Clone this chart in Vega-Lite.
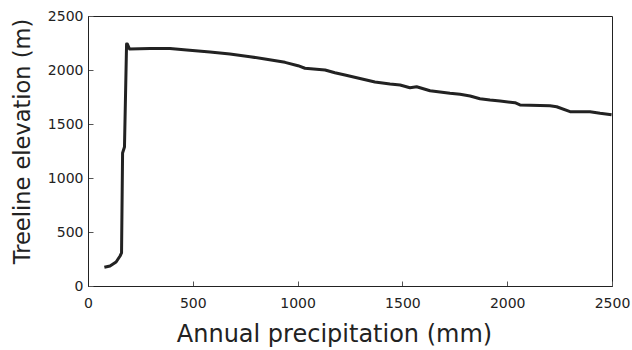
{
  "$schema": "https://vega.github.io/schema/vega-lite/v6.json",
  "width": 524,
  "height": 270,
  "autosize": "none",
  "padding": {"left": 88, "top": 16, "right": 20, "bottom": 64},
  "background": "white",
  "config": {
    "view": {"stroke": "#222", "strokeWidth": 1},
    "font": "DejaVu Sans"
  },
  "data": {
    "values": [
      {"p": 78, "e": 173}, {"p": 105, "e": 185}, {"p": 134, "e": 222},
      {"p": 153, "e": 278}, {"p": 160, "e": 306}, {"p": 165, "e": 1231},
      {"p": 174, "e": 1287}, {"p": 184, "e": 2241}, {"p": 188, "e": 2241},
      {"p": 198, "e": 2194}, {"p": 296, "e": 2199}, {"p": 391, "e": 2199},
      {"p": 471, "e": 2185}, {"p": 582, "e": 2167}, {"p": 677, "e": 2148},
      {"p": 773, "e": 2123}, {"p": 844, "e": 2102}, {"p": 940, "e": 2071},
      {"p": 1002, "e": 2040}, {"p": 1035, "e": 2016}, {"p": 1131, "e": 2000},
      {"p": 1178, "e": 1975}, {"p": 1226, "e": 1954}, {"p": 1369, "e": 1889},
      {"p": 1441, "e": 1870}, {"p": 1489, "e": 1861}, {"p": 1536, "e": 1836},
      {"p": 1568, "e": 1845}, {"p": 1632, "e": 1808}, {"p": 1727, "e": 1784},
      {"p": 1775, "e": 1775}, {"p": 1823, "e": 1759}, {"p": 1870, "e": 1734},
      {"p": 1918, "e": 1722}, {"p": 1966, "e": 1713}, {"p": 2037, "e": 1697},
      {"p": 2061, "e": 1676}, {"p": 2204, "e": 1669}, {"p": 2236, "e": 1660},
      {"p": 2300, "e": 1614}, {"p": 2395, "e": 1614}, {"p": 2443, "e": 1599},
      {"p": 2498, "e": 1586}
    ]
  },
  "mark": {"type": "line", "color": "#222", "strokeWidth": 3, "strokeJoin": "round"},
  "encoding": {
    "x": {
      "field": "p", "type": "quantitative",
      "scale": {"domain": [0, 2500], "nice": false, "zero": false},
      "axis": {
        "title": "Annual precipitation (mm)", "values": [0, 500, 1000, 1500, 2000, 2500],
        "format": "d",
        "grid": false, "tickSize": -5, "tickColor": "#555", "domainColor": "#222",
        "labelFontSize": 14, "labelColor": "#222", "labelPadding": 15,
        "labelFlush": false,
        "titleFontSize": 24, "titleFontWeight": "normal", "titleColor": "#222", "titlePadding": 12,
        "titleX": 246
      }
    },
    "y": {
      "field": "e", "type": "quantitative",
      "scale": {"domain": [0, 2500], "nice": false},
      "axis": {
        "title": "Treeline elevation (m)", "values": [0, 500, 1000, 1500, 2000, 2500],
        "format": "d",
        "grid": false, "tickSize": -5, "tickColor": "#555", "domainColor": "#222",
        "labelFontSize": 14, "labelColor": "#222", "labelPadding": 10,
        "labelFlush": false,
        "titleFontSize": 22.5, "titleFontWeight": "normal", "titleColor": "#222", "titlePadding": 13,
        "titleY": 125
      }
    }
  }
}
